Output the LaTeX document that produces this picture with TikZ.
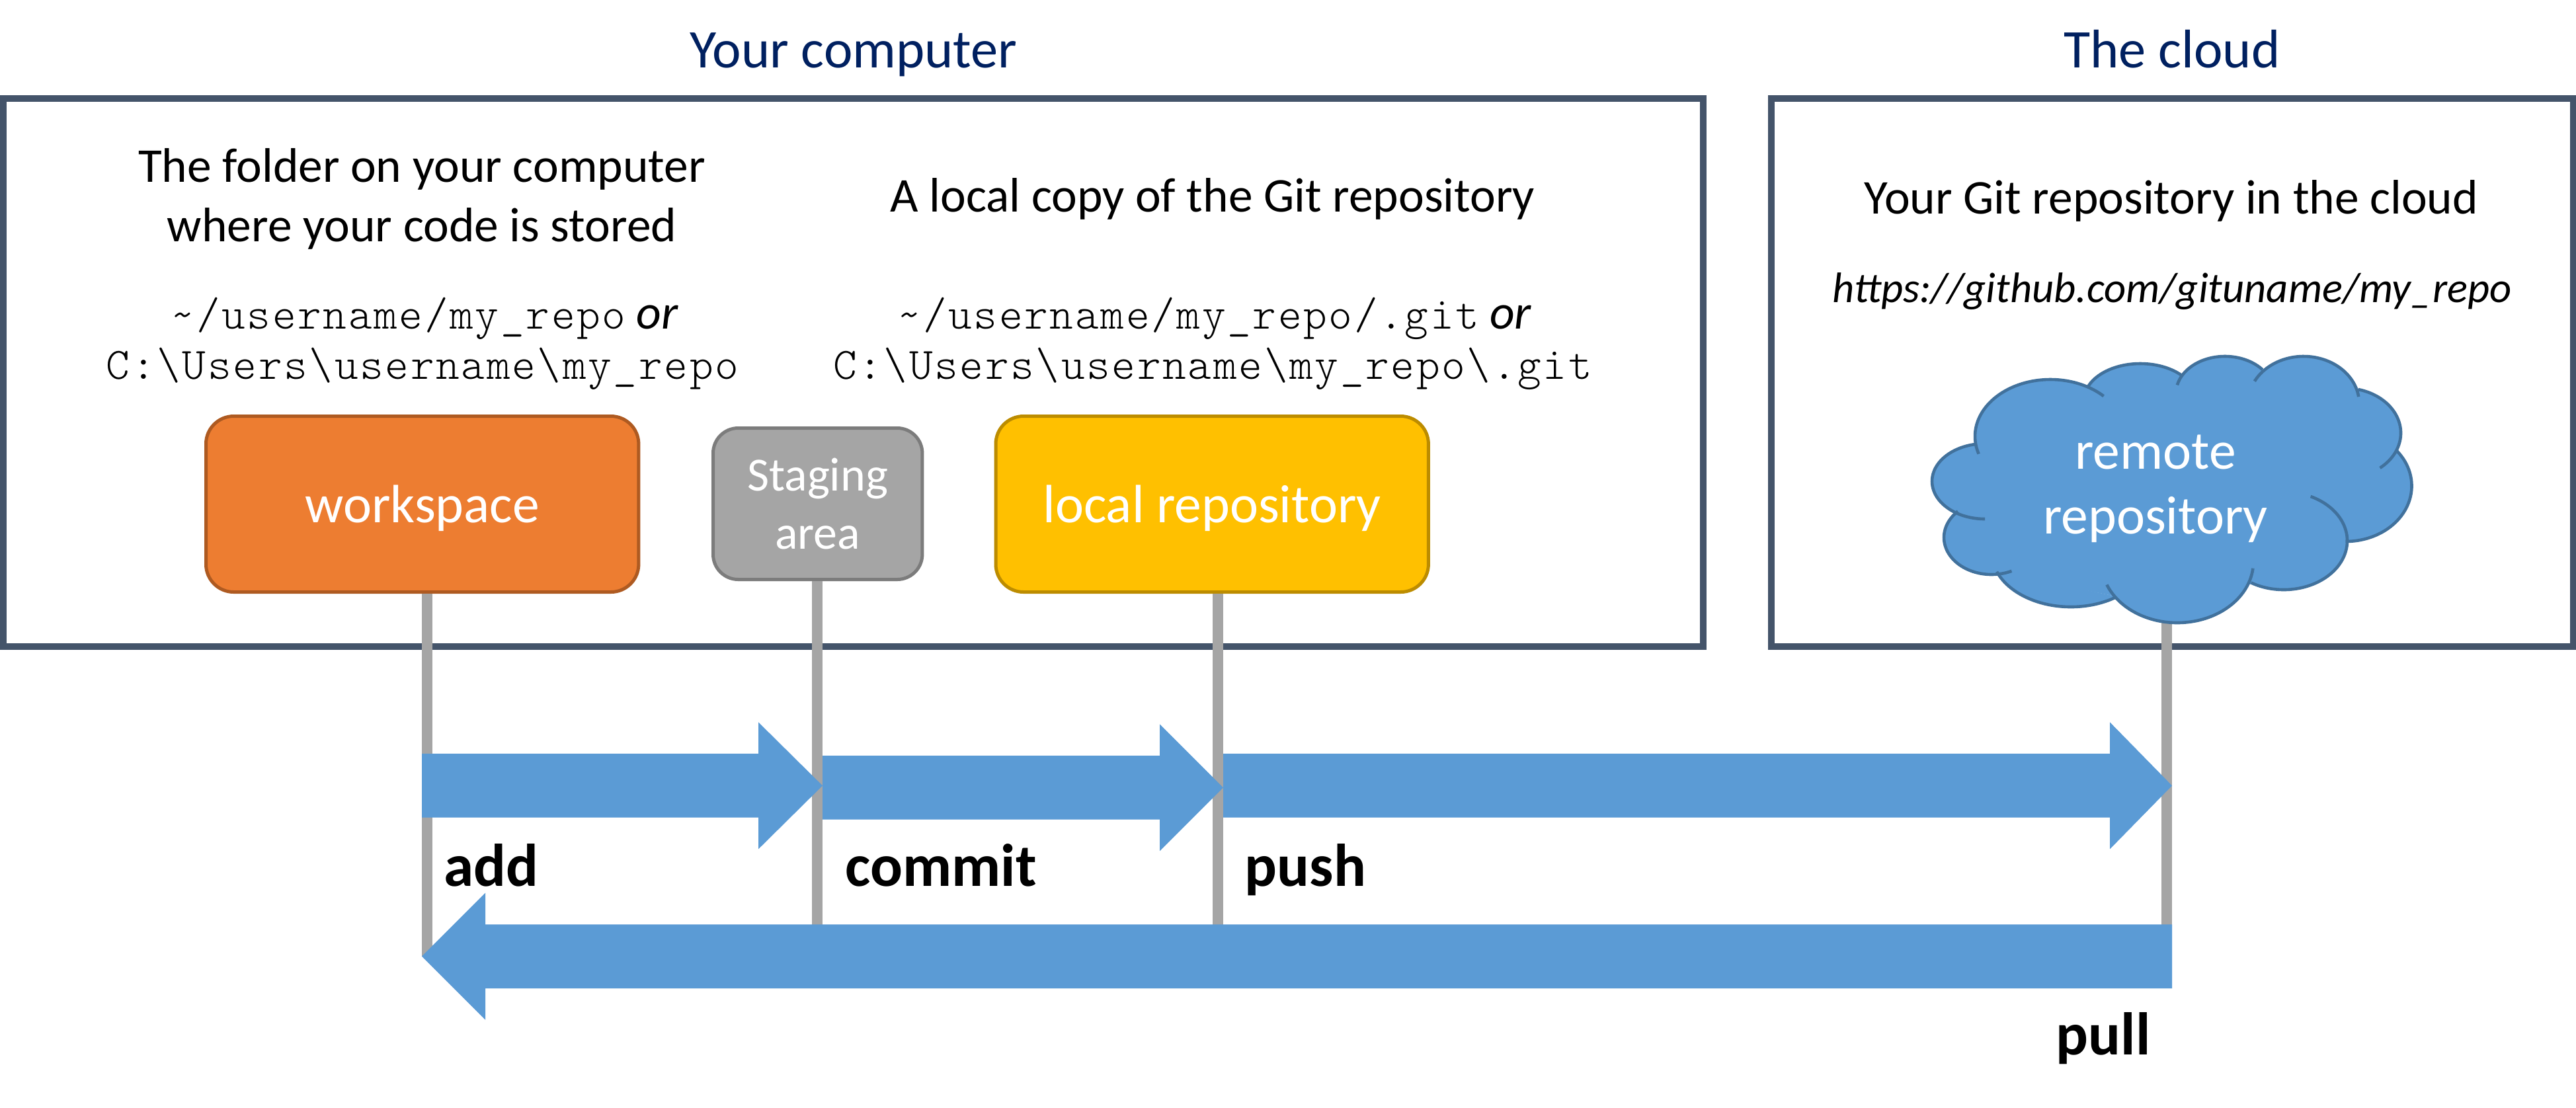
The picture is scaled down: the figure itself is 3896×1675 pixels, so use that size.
\documentclass[tikz,border=0pt]{standalone}
\usepackage{fontspec}
\setmainfont{Carlito}
\newfontfamily\codefont[LetterSpace=3.9]{Latin Modern Mono Light}
\usetikzlibrary{calc}
\definecolor{frameblue}{HTML}{44546A}
\definecolor{titleblue}{HTML}{002060}
\definecolor{arrowblue}{HTML}{5B9BD5}
\definecolor{cloudline}{HTML}{41719C}
\definecolor{linegrey}{HTML}{A5A5A5}
\definecolor{wsfill}{HTML}{ED7D31}
\definecolor{wsline}{HTML}{AE5A21}
\definecolor{stline}{HTML}{7C7C7C}
\definecolor{lrfill}{HTML}{FFC000}
\definecolor{lrline}{HTML}{BC8C00}
\tikzset{
  x=0.25pt,y=-0.25pt,
  framebox/.style={draw=frameblue,line width=2.42pt,fill=white},
  titletext/.style={anchor=base,inner sep=0pt,text=titleblue,font=\fontsize{20.6}{24}\selectfont},
  bodytext/.style={anchor=base,inner sep=0pt,font=\fontsize{18.35}{22}\selectfont},
  codetext/.style={anchor=base,inner sep=0pt,font=\fontsize{17}{19}\codefont},
  urltext/.style={anchor=base,inner sep=0pt,font=\fontsize{16.15}{20}\selectfont\itshape},
  cmdtext/.style={anchor=base west,inner sep=0pt,font=\fontsize{22.8}{26}\selectfont\bfseries},
  bigbox/.style={rounded corners=10.5pt,line width=1.25pt,minimum width=163.6pt,minimum height=66.5pt,inner sep=0pt,text=white,align=center,text height=13.8pt,text depth=0pt,font=\fontsize{20.4}{24}\selectfont},
  smallbox/.style={rounded corners=9.5pt,line width=1.25pt,minimum width=79.1pt,minimum height=57.25pt,inner sep=0pt,text=white,align=center,font=\fontsize{18}{21.8}\selectfont},
  greyline/.style={draw=linegrey,line width=4pt},
  blockfill/.style={fill=arrowblue},
  cloudfill/.style={fill=arrowblue,draw=arrowblue,line width=0.4pt},
  cloudstroke/.style={draw=cloudline,line width=1.15pt,fill=none},
}
\newcommand{\ortext}{\hspace{4pt}{\fontsize{18.35}{22}\selectfont\rmfamily\itshape or}}
% start, tip, signed head length
\newcommand{\blockarrow}[3]{%
  \path[blockfill] ($(#1)+(0,-48.3)$) -- ($(#2)+(-#3,-48.3)$) -- ($(#2)+(-#3,-96)$) -- (#2)
    -- ($(#2)+(-#3,96)$) -- ($(#2)+(-#3,48.3)$) -- ($(#1)+(0,48.3)$) -- cycle;}
% centre x, centre y, x radius, y radius, from angle, to angle
\newcommand{\cloudfillarc}[6]{%
  \path[cloudfill] plot[domain=#5:#6,samples=48,smooth] ({#1+#3*cos(\x)},{#2+#4*sin(\x)}) -- cycle;}
\newcommand{\cloudlinearc}[6]{%
  \path[cloudstroke] plot[domain=#5:#6,samples=48,smooth] ({#1+#3*cos(\x)},{#2+#4*sin(\x)});}
\newcommand{\cloudarcs}[1]{%
  #1{3101}{660}{114}{86}{162}{315}%
  #1{3237}{605}{85}{55}{200}{318}%
  #1{3365}{595}{74}{56}{193}{320}%
  #1{3484}{610}{84}{71}{208}{352}%
  #1{3546}{655}{85}{68}{284}{411}%
  #1{3547.5}{735}{100}{84}{321}{450}%
  #1{3454}{818}{96}{74}{295}{481}%
  #1{3293}{850}{115}{92}{6}{158}%
  #1{3132}{835}{120}{83}{55}{159}%
  #1{3012}{813}{72}{56}{225}{65}%
  #1{3002}{728}{80}{57}{259}{90}}
\begin{document}
\begin{tikzpicture}
\useasboundingbox (0,0) rectangle (3896,1675);
\path[fill=white] (0,0) rectangle (3896,1675);
% frames
\path[framebox] (5,148.7) rectangle (2576,978);
\path[framebox] (2679,148.7) rectangle (3891.5,978);
% titles
\node[titletext] (tcomp) at (1291,102) {Your computer};
\node[titletext] (tcloud) at (3285,102) {The cloud};
% body text
\node[bodytext] (wsa) at (638,275) {The folder on your computer};
\node[bodytext] (wsb) at (638,365) {where your code is stored};
\node[codetext] (wsc) at (642,497) {\textasciitilde/username/my\_repo\ortext};
\node[codetext] (wsd) at (639,573) {C:\textbackslash Users\textbackslash username\textbackslash my\_repo};
\node[bodytext] (lra) at (1834,320) {A local copy of the Git repository};
\node[codetext] (lrb) at (1837,497) {\textasciitilde/username/my\_repo/.git\ortext};
\node[codetext] (lrc) at (1834,573) {C:\textbackslash Users\textbackslash username\textbackslash my\_repo\textbackslash.git};
\node[bodytext] (rra) at (3284,323) {Your Git repository in the cloud};
\node[urltext] (rrb) at (3285,457) {https://github.com/gituname/my\_repo};
% boxes
\node[bigbox,draw=wsline,fill=wsfill] (workspace) at (638.7,762.5) {workspace};
\node[smallbox,draw=stline,fill=linegrey] (staging) at (1236.7,762) {Staging\\area};
\node[bigbox,draw=lrline,fill=lrfill] (local) at (1833.2,762.5) {local repository};
% named ends of the connectors
\coordinate (wsEnd) at (646,1446);
\coordinate (stEnd) at (1236,1405);
\coordinate (lrEnd) at (1841.5,1405);
\coordinate (rmEnd) at (3277,1405);
\coordinate (cloudBottom) at (3277,935);
% connectors
\draw[greyline] (wsEnd |- workspace.south) -- (wsEnd);
\draw[greyline] (stEnd |- staging.south) -- (stEnd);
\draw[greyline] (lrEnd |- local.south) -- (lrEnd);
\draw[greyline] (cloudBottom) -- (rmEnd);
% cloud
\path[cloudfill] (2987,672)--(3158,586)--(3299,569)--(3421,560)--(3566,589)--(3625,682)--(3550,819)--(3403,883)--(3199,901)--(3021,865)--(2961,773)--cycle;
\cloudarcs{\cloudfillarc}
\cloudarcs{\cloudlinearc}
\node[inner sep=0pt,text=white,align=center,font=\fontsize{20.4}{24.5}\selectfont] (remote) at (3260,739) {remote\\repository};
% block arrows
\coordinate (aS) at (638,1188.4);   \coordinate (aT) at (1244,1188.4);
\coordinate (cS) at (1244,1191.3);\coordinate (cT) at (1850,1191.3);
\coordinate (pS) at (1850,1188.4);  \coordinate (pT) at (3285,1188.4);
\coordinate (lS) at (3285,1446.7);  \coordinate (lT) at (638,1446.7);
\blockarrow{aS}{aT}{97}
\blockarrow{cS}{cT}{96}
\blockarrow{pS}{pT}{94}
\blockarrow{lS}{lT}{-96}
% command labels
\node[cmdtext] (add) at (671,1340) {add};
\node[cmdtext] (commit) at (1278,1340) {commit};
\node[cmdtext] (push) at (1882,1340) {push};
\node[cmdtext] (pull) at (3109,1595) {pull};
\end{tikzpicture}
\end{document}
